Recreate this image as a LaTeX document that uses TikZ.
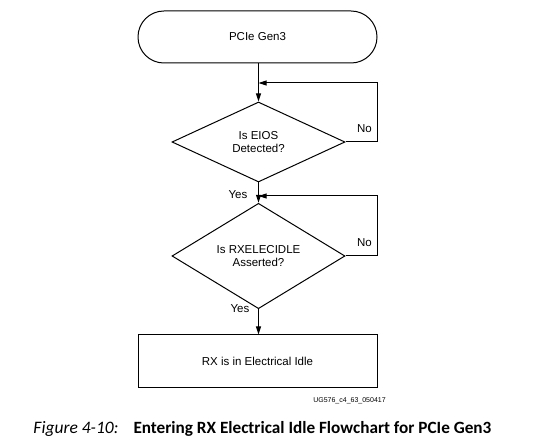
\documentclass[tikz,border=0pt]{standalone}
\usepackage{fontspec}
\setmainfont{Liberation Sans}
\newfontfamily\capfont{Carlito}
\usetikzlibrary{arrows.meta,shapes.geometric}
\begin{document}
\begin{tikzpicture}[x=1pt,y=-1pt,
  line width=1pt,
  every node/.style={font=\fontsize{11.5}{13.5}\selectfont},
  term/.style={draw,rectangle,rounded corners=25.9pt,minimum width=239pt,minimum height=52pt,inner sep=0pt},
  dec/.style={draw,diamond,minimum width=173pt,minimum height=80pt,inner sep=0pt,align=center},
  proc/.style={draw,rectangle,minimum width=239pt,minimum height=53pt,inner sep=0pt},
  flow/.style={-{Triangle[length=8pt,width=5pt]}},
  lbl/.style={inner sep=0pt}
]
\useasboundingbox (0,0) rectangle (542,446);
\node[term] (start) at (257.5,37) {PCIe Gen3};
\node[dec] (d1) at (258.5,142) {Is EIOS\\Detected?};
\node[dec] (d2) at (258.5,256) {Is RXELECIDLE\\Asserted?};
\node[proc] (end) at (257.5,361.5) {RX is in Electrical Idle};
\coordinate (j1) at (258.5,83);
\coordinate (j2) at (258.5,196);
\coordinate (r1) at (377,142);
\coordinate (r2) at (377,256);
\draw[flow] (start.south -| d1.north) -- (d1.north);
\draw[flow] (d1.south) -- (d2.north);
\draw[flow] (d2.south) -- (end.north -| d2.south);
\draw[flow] (d1.east) -- (r1) |- (j1);
\draw[flow] (d2.east) -- (r2) |- (j2);
\node[lbl] (no1) at (364.5,129) {No};
\node[lbl] (no2) at (364.5,243) {No};
\node[lbl] (yes1) at (238,195) {Yes};
\node[lbl] (yes2) at (240,309) {Yes};
\node[lbl,font=\fontsize{7}{8}\selectfont] (ug) at (349.5,401) {UG576\_c4\_63\_050417};
\node[lbl,anchor=base west,font=\capfont\fontsize{17.5}{20}\selectfont\itshape] (fig) at (33,434) {Figure 4-10:};
\node[lbl,anchor=base west,font=\capfont\fontsize{17.2}{20}\selectfont\bfseries] (cap) at (133,434) {Entering RX Electrical Idle Flowchart for PCIe Gen3};
\end{tikzpicture}
\end{document}
